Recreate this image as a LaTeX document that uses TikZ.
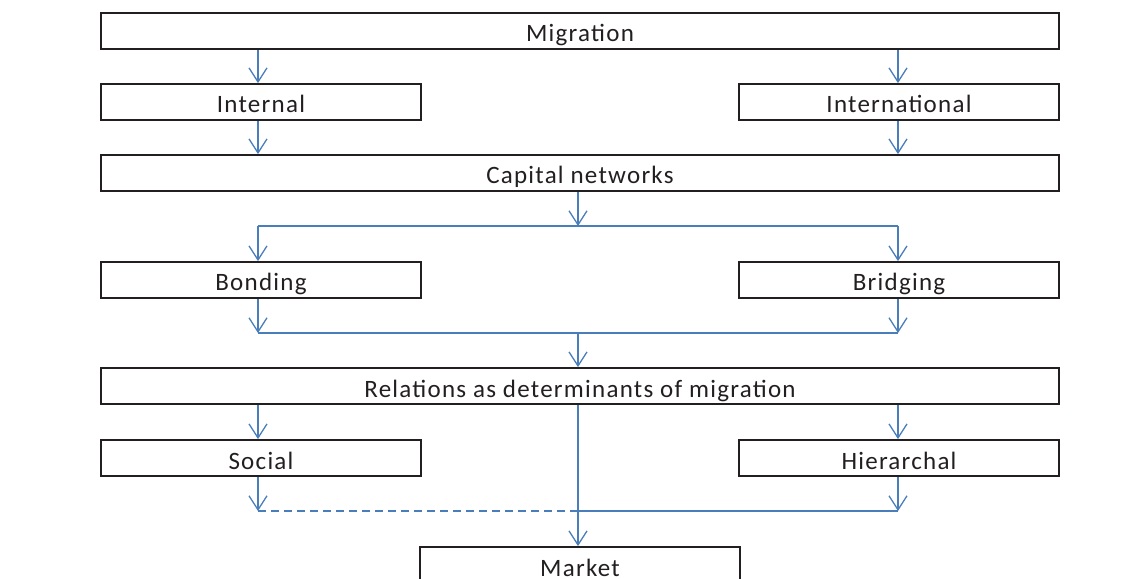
\documentclass[tikz,border=0pt]{standalone}
\usepackage{fontspec}
\setmainfont[LetterSpace=5]{Carlito}
\usetikzlibrary{arrows.meta}
\definecolor{arrblue}{RGB}{74,126,187}
\definecolor{txt}{RGB}{35,31,32}
\tikzset{
  box/.style={draw=txt, line width=1.8bp, rectangle, inner xsep=0pt, inner ysep=0pt,
    text height=29bp, text depth=7bp, text=txt, font=\fontsize{25bp}{28bp}\selectfont},
  wide/.style={box, minimum width=958bp},
  half/.style={box, minimum width=320bp},
  conn/.style={draw=arrblue, line width=1.3bp},
  arr/.style={conn, -{Straight Barb[length=14bp,width=18bp,line width=1.3bp]}},
}
\begin{document}
\begin{tikzpicture}[x=1bp,y=-1bp]
\useasboundingbox (0,0) rectangle (1140,579);
\node[wide] (mig) at (580,31) {Migration};
\node[half] (int) at (261,102) {Internal};
\node[half] (intl) at (899,102) {International};
\node[wide] (cap) at (580,173) {Capital networks};
\node[half] (bond) at (261,280) {Bonding};
\node[half] (bridge) at (899,280) {Bridging};
\node[wide] (rel) at (580,386) {Relations as determinants of migration};
\node[half] (soc) at (261,458) {Social};
\node[half] (hier) at (899,458) {Hierarchal};
\node[half] (mkt) at (580,565) {Market};
% split points
\coordinate (s1) at (578,226);
\coordinate (s1l) at (258,226);
\coordinate (s1r) at (898,226);
\coordinate (j1) at (578,333);
\coordinate (j1l) at (258,333);
\coordinate (j1r) at (898,333);
\coordinate (j2) at (578,511);
\coordinate (j2l) at (258,511);
\coordinate (j2r) at (898,511);
% migration to internal/international
\draw[arr] (mig.south -| j1l) -- (int.north -| j1l);
\draw[arr] (mig.south -| j1r) -- (intl.north -| j1r);
\draw[arr] (int.south -| j1l) -- (cap.north -| j1l);
\draw[arr] (intl.south -| j1r) -- (cap.north -| j1r);
% capital to bonding/bridging
\draw[arr] (cap.south -| s1) -- (s1);
\draw[conn] (s1l) -- (s1r);
\draw[arr] (s1l) -- (bond.north -| s1l);
\draw[arr] (s1r) -- (bridge.north -| s1r);
% bonding/bridging to relations
\draw[arr] (bond.south -| j1l) -- (j1l);
\draw[arr] (bridge.south -| j1r) -- (j1r);
\draw[conn] (j1l) -- (j1r);
\draw[arr] (j1) -- (rel.north -| j1);
% relations to social/hierarchal/market
\draw[arr] (rel.south -| j2l) -- (soc.north -| j2l);
\draw[arr] (rel.south -| j2r) -- (hier.north -| j2r);
\draw[arr] (rel.south -| j2) -- (mkt.north -| j2);
\draw[arr] (soc.south -| j2l) -- (j2l);
\draw[arr] (hier.south -| j2r) -- (j2r);
\draw[conn, dash pattern=on 8bp off 5bp] (j2l) -- (j2);
\draw[conn] (j2) -- (j2r);
\end{tikzpicture}
\end{document}
